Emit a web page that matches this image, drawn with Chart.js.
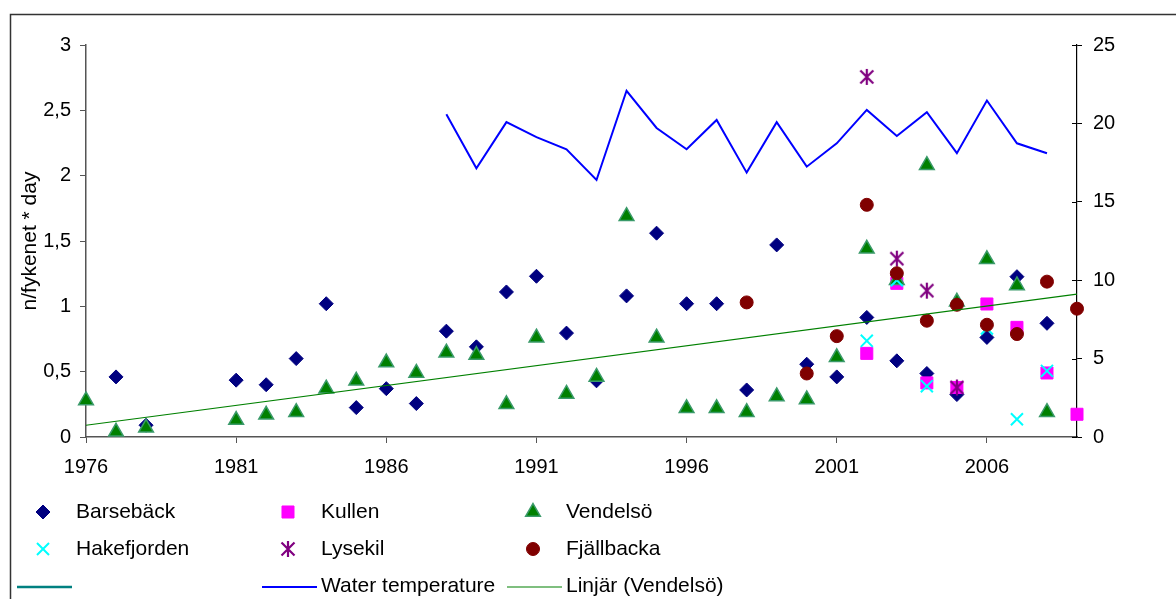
<!DOCTYPE html>
<html>
<head>
<meta charset="utf-8">
<script src="https://cdn.jsdelivr.net/npm/chart.js@4.4.1/dist/chart.umd.min.js"></script>
<style>
  html, body { margin: 0; padding: 0; background: #fff; }
  #wrap { width: 1176px; height: 599px; }
</style>
</head>
<body>
<div id="wrap"><canvas id="eelChart" width="1176" height="599"></canvas></div>
<script>
// years on the x axis (one value per year, null = no catch data)
const years = [1976, 1977, 1978, 1979, 1980, 1981, 1982, 1983, 1984, 1985,
  1986, 1987, 1988, 1989, 1990, 1991, 1992, 1993, 1994, 1995,
  1996, 1997, 1998, 1999, 2000, 2001, 2002, 2003, 2004, 2005,
  2006, 2007, 2008, 2009];
const xTicks = [1976, 1981, 1986, 1991, 1996, 2001, 2006];

const barseback = [null, 0.46, 0.09, null, null, 0.435, 0.40, 0.60, 1.02, 0.225,
  0.37, 0.256, 0.81, 0.69, 1.11, 1.23, 0.795, 0.43, 1.08, 1.56,
  1.02, 1.02, 0.36, 1.47, 0.557, 0.46, 0.915, 0.583, 0.486, 0.325,
  0.762, 1.227, 0.87, null];
const kullen = [null, null, null, null, null, null, null, null, null, null,
  null, null, null, null, null, null, null, null, null, null,
  null, null, null, null, null, null, 0.64, 1.176, 0.414, 0.379,
  1.018, 0.839, 0.49, 0.174];
const vendelso = [0.28, 0.04, 0.07, null, null, 0.13, 0.17, 0.19, 0.37, 0.43,
  0.57, 0.49, 0.645, 0.627, 0.25, 0.76, 0.33, 0.46, 1.69, 0.76,
  0.22, 0.22, 0.19, 0.31, 0.287, 0.61, 1.44, 1.20, 2.08, 1.035,
  1.36, 1.16, 0.19, null];
const hakefjorden = [null, null, null, null, null, null, null, null, null, null,
  null, null, null, null, null, null, null, null, null, null,
  null, null, null, null, null, null, 0.736, 1.2, 0.389, null,
  0.83, 0.136, 0.506, null];
const lysekil = [null, null, null, null, null, null, null, null, null, null,
  null, null, null, null, null, null, null, null, null, null,
  null, null, null, null, null, null, 2.756, 1.365, 1.12, 0.379,
  null, null, null, null];
const fjallbacka = [null, null, null, null, null, null, null, null, null, null,
  null, null, null, null, null, null, null, null, null, null,
  null, null, 1.03, null, 0.486, 0.772, 1.777, 1.253, 0.89, 1.012,
  0.859, 0.788, 1.189, 0.982];
const waterTemp = [null, null, null, null, null, null, null, null, null, null,
  null, null, 20.59, 17.14, 20.08, 19.12, 18.35, 16.39, 22.08, 19.71,
  18.35, 20.22, 16.86, 20.08, 17.24, 18.73, 20.86, 19.2, 20.71, 18.1,
  21.46, 18.73, 18.1, null];
// Excel linear trendline for Vendelsö, end points
const trendYears = [1976, 2009];
const trendValues = [0.09, 1.094];

const leftTicks = [0, 0.5, 1, 1.5, 2, 2.5, 3];
const rightTicks = [0, 5, 10, 15, 20, 25];

const FONT = '"Liberation Sans", Arial, sans-serif';
Chart.defaults.font.family = FONT;
Chart.defaults.font.size = 20;
Chart.defaults.color = '#000';

function pts(xs, ys) {
  return xs.map((x, i) => ({ x: x, y: ys[i] })).filter(p => p.y !== null);
}

// Excel "star" marker: an X with a vertical bar
function starMarker(color) {
  const c = document.createElement('canvas');
  c.width = 18; c.height = 18;
  const g = c.getContext('2d');
  g.strokeStyle = color;
  g.lineWidth = 2.2;
  g.beginPath();
  g.moveTo(2.5, 2.5); g.lineTo(15.5, 15.5);
  g.moveTo(15.5, 2.5); g.lineTo(2.5, 15.5);
  g.moveTo(9, 1); g.lineTo(9, 17);
  g.stroke();
  return c;
}

const datasets = [
  { label: 'Barsebäck', data: pts(years, barseback), pointStyle: 'rectRot', pointRadius: 7,
    backgroundColor: '#000080', borderColor: '#000080', borderWidth: 1 },
  { label: 'Kullen', data: pts(years, kullen), pointStyle: 'rect', pointRadius: 8.5,
    backgroundColor: '#ff00ff', borderColor: '#ff00ff', borderWidth: 1 },
  { label: 'Vendelsö', data: pts(years, vendelso), pointStyle: 'triangle', pointRadius: 8.5,
    backgroundColor: '#008000', borderColor: '#3a9a6a', borderWidth: 1.5 },
  { label: 'Hakefjorden', data: pts(years, hakefjorden), pointStyle: 'crossRot', pointRadius: 8.5,
    backgroundColor: '#00ffff', borderColor: '#00ffff', borderWidth: 2 },
  { label: 'Lysekil', data: pts(years, lysekil), pointStyle: starMarker('#800080'), pointRadius: 8,
    backgroundColor: '#800080', borderColor: '#800080', borderWidth: 2 },
  { label: 'Fjällbacka', data: pts(years, fjallbacka), pointStyle: 'circle', pointRadius: 6.5,
    backgroundColor: '#800000', borderColor: '#800000', borderWidth: 1 },
  { label: '', data: [], showLine: true, pointRadius: 0, borderColor: '#008080', borderWidth: 2.5,
    legendLine: true },
  { label: 'Water temperature', data: pts(years, waterTemp), yAxisID: 'y2', showLine: true,
    pointRadius: 0, borderColor: '#0000ff', borderWidth: 2, legendLine: true },
  { label: 'Linjär (Vendelsö)', data: pts(trendYears, trendValues), showLine: true,
    pointRadius: 0, borderColor: '#008000', borderWidth: 1.2, legendLine: true }
];
// later series sit on top, as in the Excel original; markers may overhang the plot edge
datasets.forEach((d, i) => { d.order = datasets.length - i; d.clip = false; });

const gridLegend = {
  id: 'gridLegend',
  afterDraw(chart) {
    const ctx = chart.ctx;
    const area = chart.chartArea;
    ctx.save();

    // outer frame (only left and top edges are inside the picture)
    ctx.strokeStyle = '#333';
    ctx.lineWidth = 1.5;
    ctx.beginPath();
    ctx.moveTo(10.5, 599);
    ctx.lineTo(10.5, 14.5);
    ctx.lineTo(1176, 14.5);
    ctx.stroke();

    // right axis ticks cross the axis line
    const y2 = chart.scales.y2;
    ctx.strokeStyle = '#000';
    ctx.lineWidth = 1;
    rightTicks.forEach(v => {
      const py = Math.round(y2.getPixelForValue(v)) + 0.5;
      ctx.beginPath();
      ctx.moveTo(area.right - 5, py);
      ctx.lineTo(area.right, py);
      ctx.stroke();
    });

    // legend, 3 columns
    ctx.font = '21px ' + FONT;
    ctx.textBaseline = 'middle';
    ctx.textAlign = 'left';
    chart.data.datasets.forEach((ds, k) => {
      const tx = 76 + (k % 3) * 245;
      const ty = 512 + Math.floor(k / 3) * 37;
      if (ds.legendLine) {
        ctx.strokeStyle = ds.borderColor;
        ctx.lineWidth = ds.borderWidth;
        ctx.beginPath();
        ctx.moveTo(tx - 59, ty + 1);
        ctx.lineTo(tx - 4, ty + 1);
        ctx.stroke();
      } else {
        ctx.fillStyle = ds.backgroundColor;
        ctx.strokeStyle = ds.borderColor;
        ctx.lineWidth = ds.borderWidth;
        Chart.helpers.drawPoint(ctx, {
          pointStyle: ds.pointStyle, radius: ds.pointRadius, rotation: 0, borderWidth: ds.borderWidth
        }, tx - 33, ty);
      }
      ctx.fillStyle = '#000';
      ctx.fillText(ds.label, tx, ty);
    });
    ctx.restore();
  }
};

const eelChart = new Chart(document.getElementById('eelChart'), {
  type: 'scatter',
  data: { datasets: datasets },
  options: {
    responsive: false,
    animation: false,
    layout: { padding: { left: 0, right: 0, top: 45, bottom: 122 } },
    plugins: { legend: { display: false }, tooltip: { enabled: false } },
    scales: {
      x: {
        type: 'linear',
        position: 'bottom',
        min: 1976,
        max: 2009,
        afterBuildTicks: s => { s.ticks = xTicks.map(v => ({ value: v })); },
        afterFit: s => { s.height = 40; },
        grid: { drawOnChartArea: false, tickLength: 6, color: '#555' },
        border: { color: '#555', width: 1.5 },
        ticks: { padding: 12, autoSkip: false, maxRotation: 0, callback: v => String(v) }
      },
      y: {
        position: 'left',
        min: 0,
        max: 3,
        afterBuildTicks: s => { s.ticks = leftTicks.map(v => ({ value: v })); },
        afterFit: s => { s.width = 86; },
        grid: { drawOnChartArea: false, tickLength: 6, color: '#555' },
        border: { color: '#555', width: 1.5 },
        ticks: { padding: 9, callback: v => String(v).replace('.', ',') },
        title: { display: true, text: 'n/fykenet * day', font: { size: 21 },
          padding: { top: 18, bottom: 0 } }
      },
      y2: {
        position: 'right',
        min: 0,
        max: 25,
        afterBuildTicks: s => { s.ticks = rightTicks.map(v => ({ value: v })); },
        afterFit: s => { s.width = 99; },
        grid: { drawOnChartArea: false, tickLength: 5, color: '#000' },
        border: { color: '#000', width: 1.2 },
        ticks: { padding: 11 }
      }
    }
  },
  plugins: [gridLegend]
});
</script>
</body>
</html>
